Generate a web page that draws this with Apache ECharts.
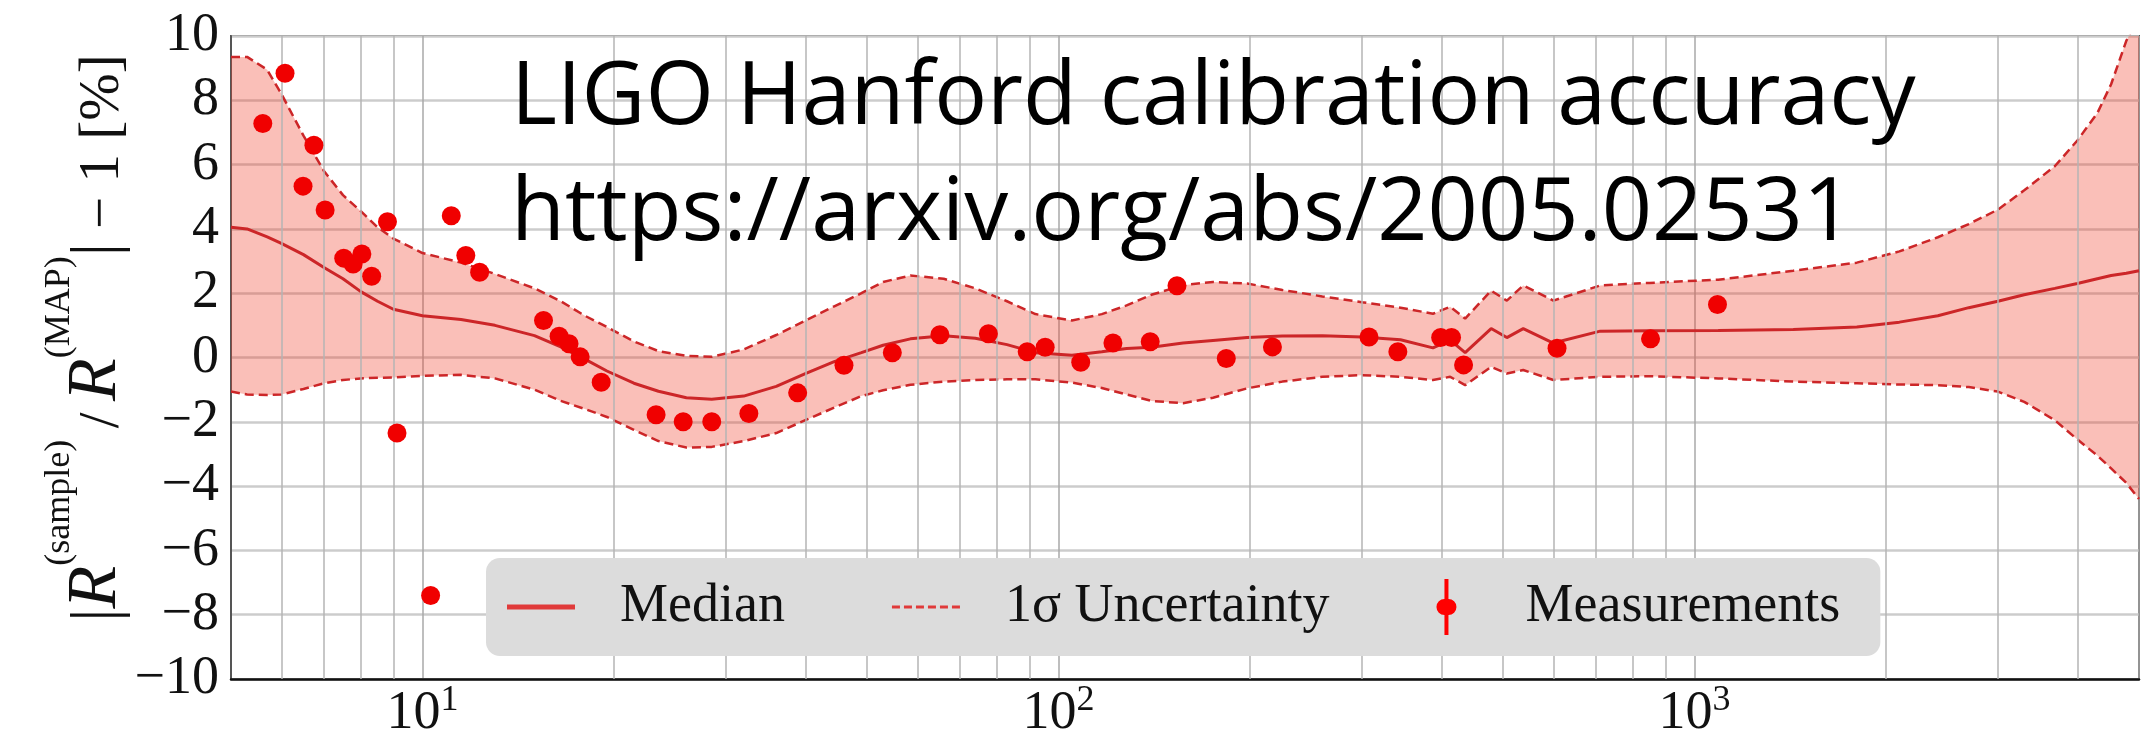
<!DOCTYPE html>
<html>
<head>
<meta charset="utf-8">
<script src="https://cdn.jsdelivr.net/npm/echarts@6/dist/echarts.min.js"></script>
<style>
html,body{margin:0;padding:0;background:#ffffff;}
#chart{width:2156px;height:741px;}
</style>
</head>
<body>
<div id="chart"></div>
<script>
// ---- data ----
const freq = [5, 5.3, 5.7, 6, 6.5, 7, 7.5, 8, 8.5, 9,
  10, 11.5, 13, 15, 16.5, 18, 19.5, 21.5, 23.5, 26,
  28.5, 32, 36, 40, 44.5, 49, 53, 58.5, 66, 74,
  83, 92, 105, 117, 128, 140, 157, 175, 198, 225,
  260, 300, 345, 388, 413, 436, 479, 507, 538, 600,
  711, 850, 1090, 1430, 1800, 2100, 2414, 2700, 3000, 3300,
  3686, 4000, 4300, 4520, 4775, 5000];

const median = [4.05, 4.0, 3.75, 3.55, 3.2, 2.8, 2.45, 2.05, 1.75, 1.5,
  1.3, 1.18, 1.0, 0.68, 0.33, -0.05, -0.42, -0.8, -1.05, -1.25,
  -1.3, -1.2, -0.9, -0.5, -0.12, 0.15, 0.38, 0.58, 0.68, 0.6,
  0.4, 0.15, 0.07, 0.18, 0.28, 0.32, 0.45, 0.53, 0.62, 0.67,
  0.68, 0.64, 0.55, 0.3, 0.54, 0.15, 0.9, 0.62, 0.9, 0.45,
  0.82, 0.83, 0.84, 0.87, 0.95, 1.1, 1.3, 1.55, 1.75, 1.95,
  2.15, 2.3, 2.45, 2.55, 2.62, 2.7];

const upper = [9.35, 9.35, 8.95, 8.2, 6.9, 5.8, 5.05, 4.55, 4.05, 3.7,
  3.25, 2.95, 2.6, 2.15, 1.75, 1.3, 0.95, 0.5, 0.2, 0.05,
  0.02, 0.25, 0.7, 1.15, 1.6, 2.0, 2.35, 2.55, 2.45, 2.15,
  1.75, 1.35, 1.15, 1.35, 1.62, 1.95, 2.25, 2.35, 2.3, 2.1,
  1.9, 1.72, 1.55, 1.36, 1.58, 1.21, 2.08, 1.77, 2.24, 1.77,
  2.24, 2.32, 2.42, 2.7, 2.95, 3.3, 3.74, 4.15, 4.6, 5.2,
  5.95, 6.75, 7.6, 8.5, 9.85, 10.6];

const lower = [-1.06, -1.15, -1.17, -1.15, -0.98, -0.8, -0.7, -0.65, -0.63, -0.62,
  -0.57, -0.54, -0.65, -1.0, -1.35, -1.6, -1.85, -2.25, -2.6, -2.8,
  -2.78, -2.6, -2.35, -1.95, -1.55, -1.2, -1.02, -0.85, -0.75, -0.7,
  -0.68, -0.68, -0.78, -0.95, -1.15, -1.35, -1.42, -1.25, -0.96, -0.75,
  -0.6, -0.55, -0.6, -0.7, -0.6, -0.86, -0.29, -0.5, -0.39, -0.7,
  -0.6, -0.58, -0.65, -0.75, -0.8, -0.84, -0.86, -0.92, -1.06, -1.38,
  -1.95, -2.55, -3.05, -3.45, -3.9, -4.4];

const measFreq = [5.61, 6.08, 6.49, 6.75, 7.03, 7.52, 7.78, 8.03, 8.32, 8.81,
  9.12, 10.3, 11.1, 11.7, 12.3, 15.5, 16.4, 17.0, 17.7, 19.1,
  23.3, 25.7, 28.5, 32.6, 38.9, 46.0, 54.8, 65.1, 77.6, 89.3,
  95.3, 108.4, 121.8, 139.4, 153.6, 183.6, 217, 307.8, 341.7, 399,
  415, 433.5, 608, 853, 1087];

const measVal = [7.28, 8.84, 5.33, 6.60, 4.59, 3.09, 2.91, 3.22, 2.53, 4.22,
  -2.35, -7.40, 4.41, 3.17, 2.65, 1.15, 0.66, 0.43, 0.02, -0.77,
  -1.78, -2.00, -2.00, -1.74, -1.10, -0.24, 0.15, 0.71, 0.74, 0.18,
  0.32, -0.15, 0.45, 0.49, 2.23, -0.03, 0.33, 0.64, 0.18, 0.62,
  0.62, -0.23, 0.29, 0.58, 1.65];

const minorGridFreq = [6, 7, 8, 9, 20, 30, 40, 50, 60, 70, 80, 90,
  200, 300, 400, 500, 600, 700, 800, 900, 2000, 3000, 4000];

const xMin = 5, xMax = 5000, yMin = -10, yMax = 10, yStep = 2;

const titleLines = ['LIGO Hanford calibration accuracy', 'https://arxiv.org/abs/2005.02531'];
const legendNames = ['Median', '1\u03c3 Uncertainty', 'Measurements'];
const yAxisTitle = '{v||}{r|R}{s|(sample)}{o|\u2009/\u2009}{r|R}{s|(MAP)}{v||}{o| \u2212 1 [%]}';

// ---- chart ----
const lineRed = '#cc2628';
const legendRed = '#e03a3a';
const bandFill = 'rgba(240,60,40,0.33)';
const serif = 'Liberation Serif';

const chart = echarts.init(document.getElementById('chart'), null, {renderer: 'canvas'});

const pairs = (xs, ys) => xs.map((x, i) => [x, ys[i]]);

const option = {
  animation: false,
  backgroundColor: '#ffffff',
  title: {
    text: titleLines.join('\n'),
    left: 506, top: 36,
    textStyle: {fontFamily: 'Open Sans', fontSize: 88, lineHeight: 116, fontWeight: 'normal', color: '#000'},
    z: 20
  },
  graphic: [{
    type: 'text',
    x: 132, y: 338,
    rotation: Math.PI / 2,
    z: 10,
    silent: true,
    style: {
      text: yAxisTitle,
      align: 'center',
      verticalAlign: 'bottom',
      fill: '#111',
      rich: {
        v: {fontFamily: serif, fontSize: 66, fill: '#111', lineHeight: 90, verticalAlign: 'bottom'},
        r: {fontFamily: serif, fontSize: 70, fontStyle: 'italic', fill: '#111', lineHeight: 90, verticalAlign: 'bottom'},
        o: {fontFamily: serif, fontSize: 57, fill: '#111', lineHeight: 90, verticalAlign: 'bottom'},
        s: {fontFamily: serif, fontSize: 36, fill: '#111', lineHeight: 40, verticalAlign: 'top'}
      }
    }
  }],
  grid: {
    left: 231, right: 17, top: 36, bottom: 59,
    show: true, borderColor: '#555', borderWidth: 2, backgroundColor: 'transparent'
  },
  legend: {
    left: 486, top: 558,
    orient: 'horizontal',
    padding: [21, 40, 21, 21],
    backgroundColor: '#dcdcdc',
    borderRadius: 14,
    itemWidth: 68, itemHeight: 56, itemGap: 107,
    textStyle: {fontFamily: serif, fontSize: 54, color: '#111', padding: [0, 0, 0, 40]},
    data: [
      {name: legendNames[0], icon: 'path://M0,0 L68,0 L68,5 L0,5 Z', itemStyle: {color: legendRed}},
      {name: legendNames[1], icon: 'path://M0,0h8v3h-8z M12,0h8v3h-8z M24,0h8v3h-8z M36,0h8v3h-8z M48,0h8v3h-8z M60,0h8v3h-8z', itemStyle: {color: legendRed}},
      {name: legendNames[2], icon: 'path://M5,0 L9,0 L9,20 A8,8 0 0 1 9,36 L9,56 L5,56 L5,36 A8,8 0 0 1 5,20 Z', itemStyle: {color: '#ff0000'}}
    ],
    z: 10
  },
  xAxis: {
    type: 'log', logBase: 10, min: xMin, max: xMax,
    axisLine: {show: true, onZero: false, lineStyle: {color: '#111', width: 2.5}},
    axisTick: {show: false},
    splitLine: {show: true, lineStyle: {color: '#a8a8a8', width: 1.5}},
    axisLabel: {
      margin: 4,
      showMinLabel: false, showMaxLabel: false,
      formatter: function (v) {
        const e = Math.log10(v);
        if (Math.abs(e - Math.round(e)) > 1e-6) return '';
        return '{b|10}{s|' + Math.round(e) + '}';
      },
      rich: {
        b: {fontFamily: serif, fontSize: 54, color: '#111', lineHeight: 58, verticalAlign: 'bottom'},
        s: {fontFamily: serif, fontSize: 36, color: '#111', lineHeight: 36, verticalAlign: 'top'}
      }
    }
  },
  yAxis: {
    type: 'value', min: yMin, max: yMax, interval: yStep,
    axisLine: {show: true, lineStyle: {color: '#555', width: 2}},
    axisTick: {show: false},
    splitLine: {show: true, lineStyle: {color: '#cccccc', width: 2.5}},
    axisLabel: {
      margin: 12,
      fontFamily: serif, fontSize: 54, color: '#111',
      formatter: function (v) { return v < 0 ? '\u2212' + Math.abs(v) : String(v); }
    }
  },
  series: [
    {
      name: 'minor-grid', type: 'line', silent: true, z: 0,
      data: [[10, 0]], showSymbol: false, symbol: 'none',
      lineStyle: {width: 0, opacity: 0},
      markLine: {
        silent: true, symbol: ['none', 'none'], label: {show: false},
        lineStyle: {color: '#b4b4b4', width: 1.5, type: 'solid'},
        emphasis: {disabled: true},
        data: minorGridFreq.map(f => ({xAxis: f}))
      }
    },
    {
      name: 'band', type: 'custom', silent: true, z: 1, clip: true,
      data: [[freq[0], upper[0]]],
      encode: {x: 0, y: 1},
      renderItem: function (params, api) {
        const top = freq.map((f, i) => api.coord([f, upper[i]]));
        const bot = freq.map((f, i) => api.coord([f, lower[i]])).reverse();
        return {type: 'polygon', shape: {points: top.concat(bot)}, style: {fill: bandFill}};
      }
    },
    {
      name: legendNames[1], type: 'line', z: 3, symbol: 'none', showSymbol: false,
      data: pairs(freq, lower),
      lineStyle: {color: lineRed, width: 2.5, type: [9, 5]},
      itemStyle: {color: lineRed}
    },
    {
      name: legendNames[1], type: 'line', z: 3, symbol: 'none', showSymbol: false,
      data: pairs(freq, upper),
      lineStyle: {color: lineRed, width: 2.5, type: [9, 5]},
      itemStyle: {color: lineRed}
    },
    {
      name: legendNames[0], type: 'line', z: 4, symbol: 'none', showSymbol: false,
      data: pairs(freq, median),
      lineStyle: {color: '#cc2628', width: 3},
      itemStyle: {color: '#cc2628'}
    },
    {
      name: legendNames[2], type: 'scatter', z: 5,
      data: pairs(measFreq, measVal),
      symbol: 'circle', symbolSize: 19,
      itemStyle: {color: '#f00000', opacity: 1}
    }
  ]
};

chart.setOption(option);
</script>
</body>
</html>
